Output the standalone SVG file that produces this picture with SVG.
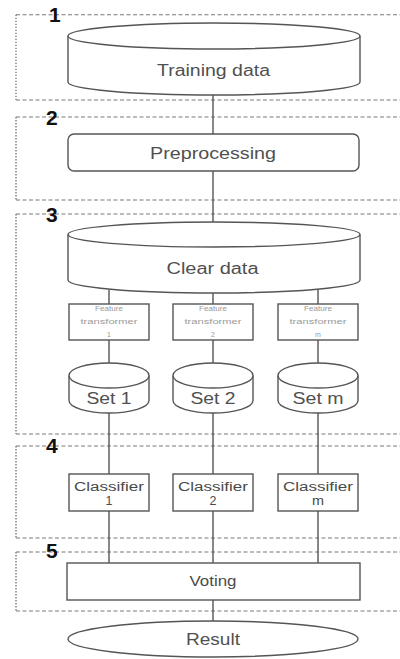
<svg xmlns="http://www.w3.org/2000/svg" width="400" height="659" viewBox="0 0 400 659">
  <style>
    .stage-h { fill: none; stroke: #7a7a7a; stroke-width: 1.1; stroke-dasharray: 4 2.5; }
    .stage-v { fill: none; stroke: #7a7a7a; stroke-width: 1.4; stroke-dasharray: 1.4 1.6; }
    .stage-num { font-family: "Liberation Sans", Arial, sans-serif; font-weight: bold; font-size: 21px; fill: #111; }
    .shape { fill: #fff; stroke: #555; stroke-width: 1.4; }
    .conn { fill: none; stroke: #555; stroke-width: 1.4; }
    .lbl { font-family: "Liberation Sans", Arial, sans-serif; fill: #505050; text-anchor: middle; }
    .big { font-size: 16px; }
    .mid { font-size: 14px; fill: #4a4a4a; }
    .two { font-size: 12.5px; fill: #4a4a4a; }
    .tiny { font-size: 7px; fill: #9a9a9a; }
  </style>

  <!-- stage frames: dashed top/bottom, dotted left side, open to the right -->
  <g id="stages">
    <g id="stage-1">
      <path class="stage-h" d="M16,14.7 H402 M16,100 H402"/>
      <path class="stage-v" d="M16,14.7 V100"/>
      <text class="stage-num" x="49" y="22">1</text>
    </g>
    <g id="stage-2">
      <path class="stage-h" d="M16,117 H402 M16,200 H402"/>
      <path class="stage-v" d="M16,117 V200"/>
      <text class="stage-num" x="46" y="125">2</text>
    </g>
    <g id="stage-3">
      <path class="stage-h" d="M16,214 H402 M16,434 H402"/>
      <path class="stage-v" d="M16,214 V434"/>
      <text class="stage-num" x="46" y="222">3</text>
    </g>
    <g id="stage-4">
      <path class="stage-h" d="M16,446 H402 M16,538 H402"/>
      <path class="stage-v" d="M16,446 V538"/>
      <text class="stage-num" x="46" y="453">4</text>
    </g>
    <g id="stage-5">
      <path class="stage-h" d="M16,552 H402 M16,611 H402"/>
      <path class="stage-v" d="M16,552 V611"/>
      <text class="stage-num" x="46" y="558">5</text>
    </g>
  </g>

  <!-- connectors -->
  <g id="connectors">
    <path class="conn" d="M213,95 V134"/>
    <path class="conn" d="M213,171 V222"/>
    <path class="conn" d="M109,290 V304 M213,293 V304 M318,290 V304"/>
    <path class="conn" d="M109,340 V363 M213,340 V363 M318,340 V363"/>
    <path class="conn" d="M109,413 V474 M213,413 V474 M318,413 V474"/>
    <path class="conn" d="M109,511 V563 M213,511 V563 M318,511 V563"/>
    <path class="conn" d="M213,600 V621"/>
  </g>

  <g id="training-data">
    <path class="shape" d="M68,36 V82 A146,13 0 0 0 360,82 V36"/>
    <ellipse class="shape" cx="214" cy="36" rx="146" ry="13"/>
    <text class="lbl big" x="213.5" y="76" textLength="113" lengthAdjust="spacingAndGlyphs">Training data</text>
  </g>

  <g id="preprocessing">
    <rect class="shape" x="68" y="134" width="291" height="37" rx="6"/>
    <text class="lbl big" x="213" y="159" textLength="126" lengthAdjust="spacingAndGlyphs">Preprocessing</text>
  </g>

  <g id="clear-data">
    <path class="shape" d="M68,234.5 V280 A146,13 0 0 0 360,280 V234.5"/>
    <ellipse class="shape" cx="214" cy="234.5" rx="146" ry="12.5"/>
    <text class="lbl big" x="212.5" y="274" textLength="92" lengthAdjust="spacingAndGlyphs">Clear data</text>
  </g>

  <g id="feature-transformer-1">
    <rect class="shape" x="69" y="304" width="80" height="36"/>
    <text class="lbl tiny" x="109" y="311" textLength="28" lengthAdjust="spacingAndGlyphs">Feature</text>
    <text class="lbl tiny" x="109" y="324" textLength="57" lengthAdjust="spacingAndGlyphs">transformer</text>
    <text class="lbl tiny" x="109" y="337">1</text>
  </g>
  <g id="feature-transformer-2">
    <rect class="shape" x="173" y="304" width="80" height="36"/>
    <text class="lbl tiny" x="213" y="311" textLength="28" lengthAdjust="spacingAndGlyphs">Feature</text>
    <text class="lbl tiny" x="213" y="324" textLength="57" lengthAdjust="spacingAndGlyphs">transformer</text>
    <text class="lbl tiny" x="213" y="337">2</text>
  </g>
  <g id="feature-transformer-m">
    <rect class="shape" x="278" y="304" width="80" height="36"/>
    <text class="lbl tiny" x="318" y="311" textLength="28" lengthAdjust="spacingAndGlyphs">Feature</text>
    <text class="lbl tiny" x="318" y="324" textLength="57" lengthAdjust="spacingAndGlyphs">transformer</text>
    <text class="lbl tiny" x="318" y="337">m</text>
  </g>

  <g id="set-1">
    <path class="shape" d="M69,375.5 V400.5 A40,12.5 0 0 0 149,400.5 V375.5"/>
    <ellipse class="shape" cx="109" cy="375.5" rx="40" ry="12.5"/>
    <text class="lbl big" x="109" y="404" textLength="45" lengthAdjust="spacingAndGlyphs">Set 1</text>
  </g>
  <g id="set-2">
    <path class="shape" d="M173,375.5 V400.5 A40,12.5 0 0 0 253,400.5 V375.5"/>
    <ellipse class="shape" cx="213" cy="375.5" rx="40" ry="12.5"/>
    <text class="lbl big" x="213" y="404" textLength="45" lengthAdjust="spacingAndGlyphs">Set 2</text>
  </g>
  <g id="set-m">
    <path class="shape" d="M278,375.5 V400.5 A40,12.5 0 0 0 358,400.5 V375.5"/>
    <ellipse class="shape" cx="318" cy="375.5" rx="40" ry="12.5"/>
    <text class="lbl big" x="318" y="404" textLength="51" lengthAdjust="spacingAndGlyphs">Set m</text>
  </g>

  <g id="classifier-1">
    <rect class="shape" x="69" y="474" width="80" height="37"/>
    <text class="lbl two" x="109" y="490.5" textLength="70" lengthAdjust="spacingAndGlyphs">Classifier</text>
    <text class="lbl two" x="109" y="505">1</text>
  </g>
  <g id="classifier-2">
    <rect class="shape" x="173" y="474" width="80" height="37"/>
    <text class="lbl two" x="213" y="490.5" textLength="70" lengthAdjust="spacingAndGlyphs">Classifier</text>
    <text class="lbl two" x="213" y="505">2</text>
  </g>
  <g id="classifier-m">
    <rect class="shape" x="278" y="474" width="80" height="37"/>
    <text class="lbl two" x="318" y="490.5" textLength="70" lengthAdjust="spacingAndGlyphs">Classifier</text>
    <text class="lbl two" x="318" y="505" textLength="12" lengthAdjust="spacingAndGlyphs">m</text>
  </g>

  <g id="voting">
    <rect class="shape" x="67" y="563" width="293" height="37"/>
    <text class="lbl mid" x="213" y="586" textLength="47" lengthAdjust="spacingAndGlyphs">Voting</text>
  </g>

  <g id="result">
    <ellipse class="shape" cx="213" cy="639" rx="145" ry="18"/>
    <text class="lbl big" x="213" y="645" textLength="54" lengthAdjust="spacingAndGlyphs">Result</text>
  </g>
</svg>
